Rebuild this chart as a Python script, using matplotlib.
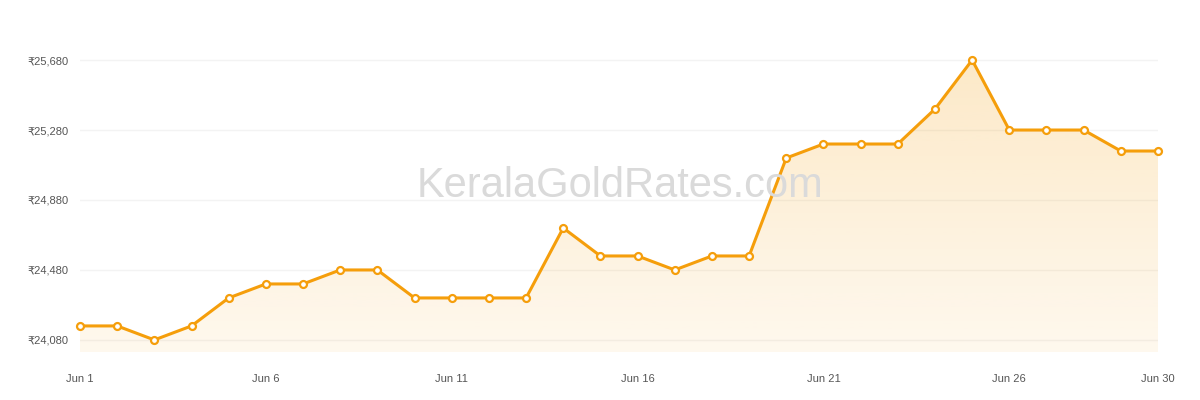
import matplotlib
matplotlib.use("Agg")
import matplotlib.pyplot as plt
import numpy as np
from matplotlib.colors import to_rgba

plt.rcParams['font.family'] = ['Liberation Sans', 'DejaVu Sans']

days = list(range(1, 31))
prices = [24160, 24160, 24080, 24160, 24320, 24400, 24400, 24480, 24480, 24320,
          24320, 24320, 24320, 24720, 24560, 24560, 24480, 24560, 24560, 25120,
          25200, 25200, 25200, 25400, 25680, 25280, 25280, 25280, 25160, 25160]
yticks = [24080, 24480, 24880, 25280, 25680]
xtick_days = [1, 6, 11, 16, 21, 26, 30]
xtick_labels = ["Jun 1", "Jun 6", "Jun 11", "Jun 16", "Jun 21", "Jun 26", "Jun 30"]

fig = plt.figure(figsize=(12, 4), dpi=100)
ax = fig.add_axes([80/1200, 1-352/400, (1158-80)/1200, (352-20)/400])
color = "#f59e0b"
x = np.array(days); y = np.array(prices)
ymin, ymax = 24011, 25909
poly = ax.fill_between(x, y, ymin, color="none")
grad = np.linspace(0.25, 0.07, 256).reshape(-1, 1)
img = np.zeros((256, 1, 4))
img[..., :3] = to_rgba(color)[:3]
img[..., 3] = grad[::-1, 0].reshape(-1, 1)
im = ax.imshow(img, extent=[1, 30, ymin, ymax], aspect="auto", origin="lower", zorder=1)
im.set_clip_path(poly.get_paths()[0], transform=ax.transData)
ax.plot(x, y, color=color, lw=2.2, zorder=3, clip_on=False)
ax.plot(x, y, "o", ms=5, mfc="white", mec=color, mew=1.6, zorder=4, clip_on=False)
ax.set_xlim(1, 30)
ax.set_ylim(ymin, ymax)
ax.set_yticks(yticks)
ax.set_yticklabels([f"₹{v:,}" for v in yticks])
ax.set_xticks(xtick_days)
ax.set_xticklabels(xtick_labels)
ax.tick_params(length=0, labelsize=8, colors="#555555")
ax.tick_params(axis="x", pad=16)
ax.tick_params(axis="y", pad=8)
ax.grid(axis="y", color="#f3f3f3", lw=1)
ax.set_axisbelow(True)
for s in ax.spines.values():
    s.set_visible(False)
fig.text(620/1200, 1-186/400, "KeralaGoldRates.com", fontsize=30, color="#dadada",
         ha="center", va="center", zorder=0)
fig.savefig("out.png")
